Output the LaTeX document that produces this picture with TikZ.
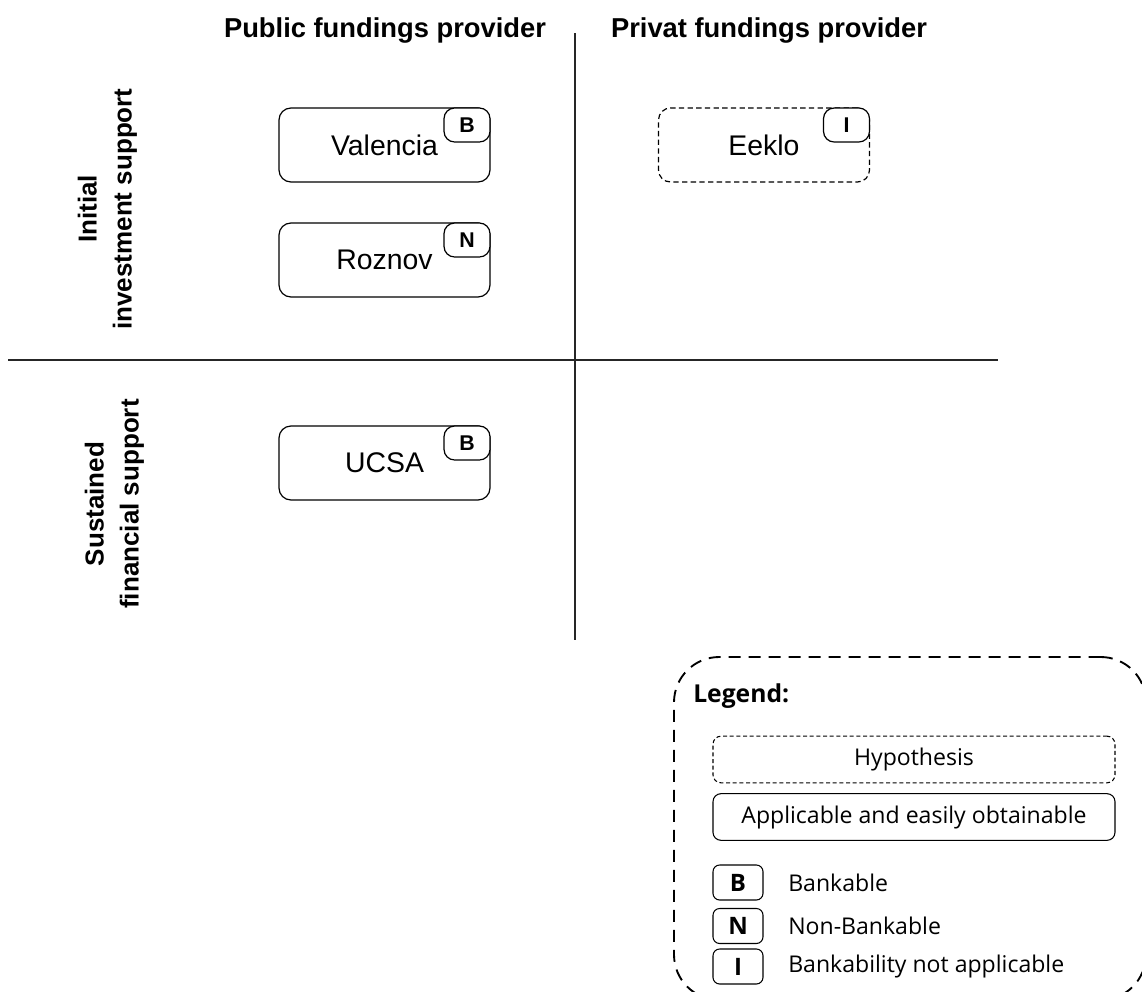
\documentclass[tikz,border=0pt]{standalone}
\usepackage{fontspec}
\setmainfont{Liberation Sans}
\newfontfamily\legfont{Open Sans}
\begin{document}
\begin{tikzpicture}[x=0.75pt,y=-0.75pt,
  fundbox/.style={draw, line width=0.9pt, rounded corners=9pt, minimum width=158.25pt, minimum height=55.5pt, inner sep=0pt, font=\fontsize{21.3}{25}\selectfont},
  hypbox/.style={fundbox, dash pattern=on 4pt off 2.5pt},
  badge/.style={draw, fill=white, line width=0.9pt, rounded corners=8pt, minimum width=34.5pt, minimum height=25.5pt, inner sep=0pt, font=\bfseries\fontsize{16}{18}\selectfont},
  header/.style={font=\bfseries\fontsize{20.5}{24}\selectfont},
  rowlab/.style={font=\bfseries\fontsize{19.5}{26.25}\selectfont, rotate=90, align=center},
  axis/.style={line width=1pt, black!85},
  legframe/.style={draw, line width=1.4pt, rounded corners=34pt, dash pattern=on 9pt off 6pt, minimum width=354pt, minimum height=257.25pt, inner sep=0pt},
  legbox/.style={draw, line width=0.8pt, rounded corners=6pt, minimum width=301.5pt, minimum height=35pt, inner sep=0pt, font=\legfont\fontsize{17.3}{20}\selectfont},
  leghyp/.style={legbox, dash pattern=on 3pt off 2pt},
  legbadge/.style={draw, line width=0.8pt, rounded corners=5pt, minimum width=37.5pt, minimum height=26.25pt, inner sep=0pt, font=\legfont\bfseries\fontsize{18}{20}\selectfont},
  legtext/.style={anchor=west, inner sep=0pt, font=\legfont\fontsize{17.3}{20}\selectfont}
]
\useasboundingbox (0,0) rectangle (1142,992);

% axes
\coordinate (vtop) at (575,33);
\coordinate (vbot) at (575,640);
\coordinate (hleft) at (8,360);
\coordinate (hright) at (998,360);
\draw[axis] (vtop) -- (vbot);
\draw[axis] (hleft) -- (hright);

% headers
\node[header] (hpub) at (385,30) {Public fundings provider};
\node[header] (hpriv) at (769,30) {Privat fundings provider};

% row labels
\node[rowlab] (rinit) at (107.5,209) {Initial\\investment support};
\node[rowlab] (rsust) at (114.5,504) {Sustained\\financial support};

% boxes
\node[fundbox] (valencia) at (384.5,145) {Valencia};
\node[badge, anchor=north east] (bval) at (valencia.north east) {B};
\node[fundbox] (roznov) at (384.5,260) {Roznov};
\node[badge, anchor=north east] (broz) at (roznov.north east) {N};
\node[hypbox] (eeklo) at (764,145) {Eeklo};
\node[badge, anchor=north east] (beek) at (eeklo.north east) {I};
\node[fundbox] (ucsa) at (384.5,463) {UCSA};
\node[badge, anchor=north east] (bucsa) at (ucsa.north east) {B};

% legend
\node[legframe] (legend) at (910,828.5) {};
\node[anchor=base west, inner sep=0pt, font=\legfont\bfseries\fontsize{18.5}{21}\selectfont] (legtitle) at (693,702) {Legend:};
\node[leghyp] (lhyp) at (914,759.5) {Hypothesis};
\node[legbox] (lapp) at (914,817) {Applicable and easily obtainable};
\node[legbadge] (lb) at (738,882.5) {B};
\node[legbadge] (ln) at (738,926) {N};
\node[legbadge] (li) at (738,966.5) {I};
\node[legtext] (tb) at (788,882.5) {Bankable};
\node[legtext] (tn) at (788,926) {Non-Bankable};
\node[legtext] (ti) at (788,966.5) {Bankability not applicable};
\end{tikzpicture}
\end{document}
